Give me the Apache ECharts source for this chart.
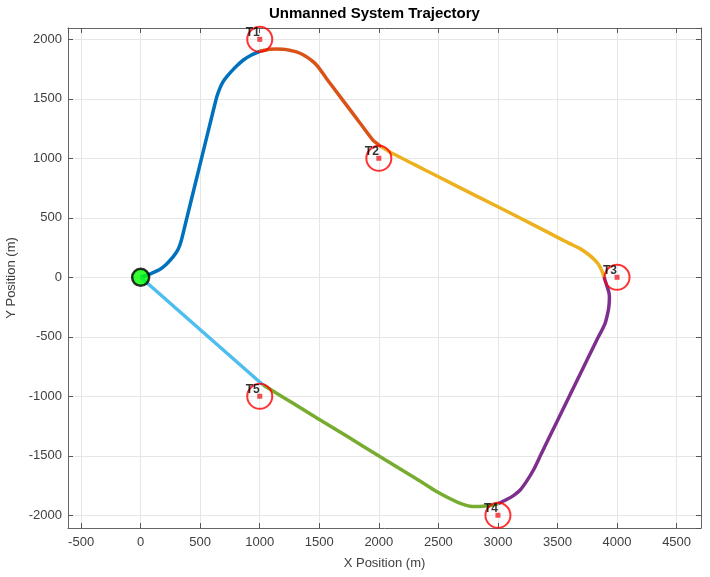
<!DOCTYPE html>
<html>
<head>
<meta charset="utf-8">
<script src="https://cdn.jsdelivr.net/npm/echarts@6/dist/echarts.min.js"></script>
<style>
  html, body { margin: 0; padding: 0; background: #fff; }
  #chart { width: 710px; height: 577px; }
</style>
</head>
<body>
<div id="chart"></div>
<script>
// path segments, [x, y] in metres
var segStartT1 = [[0,0],[50,17],[100,37],[160,65],[216,110],[272,171],[315,235],[342,311],[384,482],[454,767],[524,1052],[590,1320],[622,1450],[642,1525],[664,1586],[690,1640],[720,1683],[790,1760],[860,1824],[930,1868],[1000,1899]];
var segT1T2 = [[1000,1899],[1084,1916],[1140,1918],[1196,1916],[1250,1908],[1308,1894],[1360,1872],[1406,1844],[1450,1810],[1490,1769],[1560,1671],[1700,1485],[1840,1299],[1952,1151],[1990,1120],[2022,1096]];
var segT2T3 = [[2022,1096],[2092,1053],[2300,947],[2484,853],[2800,693],[3157,513],[3521,325],[3600,285],[3689,241],[3750,200],[3801,157],[3835,120],[3857,87],[3876,45],[3891,3]];
var segT3T4 = [[3891,3],[3913,-67],[3930,-120],[3936,-165],[3934,-220],[3927,-277],[3899,-389],[3829,-529],[3661,-873],[3493,-1218],[3423,-1361],[3360,-1492],[3297,-1622],[3240,-1715],[3185,-1790],[3130,-1835],[3073,-1868],[3003,-1902]];
var segT4T5 = [[3003,-1902],[2940,-1918],[2877,-1924],[2820,-1926],[2765,-1924],[2690,-1902],[2625,-1874],[2484,-1800],[2345,-1712],[2008,-1506],[1740,-1341],[1476,-1180],[1280,-1059],[1084,-939],[1028,-905]];
var segT5Start = [[1028,-905],[0,0]];

var targetNames = ['T1', 'T2', 'T3', 'T4', 'T5'];
var targetX = [1000, 2000, 4000, 3000, 1000];
var targetY = [2000, 1000, 0, -2000, -1000];
var startPoint = [0, 0];

var segments = [segStartT1, segT1T2, segT2T3, segT3T4, segT4T5, segT5Start];
var segColors = ['#0072BD', '#D95319', '#EDB120', '#7E2F8E', '#77AC30', '#4DBEEE'];

var targets = targetNames.map(function(n, i) {
    return { name: n, value: [targetX[i], targetY[i]] };
});

var axisFont = { fontFamily: 'Liberation Sans', fontSize: 13, color: '#404040' };
var plainNum = function(v) { return String(v); };

var series = segments.map(function(seg, i) {
    return {
        type: 'line',
        data: seg,
        smooth: 0.25,
        showSymbol: false,
        lineStyle: { color: segColors[i], width: 3.5 },
        z: 2
    };
});
series.push({
    type: 'scatter',
    data: targets,
    symbol: 'circle',
    symbolSize: 25,
    itemStyle: { color: 'rgba(0,0,0,0)', borderColor: '#ff0000', borderWidth: 2 },
    z: 3
});
series.push({
    type: 'scatter',
    data: targets,
    symbol: 'rect',
    symbolSize: 5,
    itemStyle: { color: '#e8262b' },
    label: {
        show: true,
        position: 'inside',
        offset: [-7, -7],
        formatter: '{b}',
        fontFamily: 'Liberation Sans',
        fontSize: 12,
        fontWeight: 'bold',
        color: '#000'
    },
    z: 4
});
series.push({
    type: 'scatter',
    data: [startPoint],
    symbol: 'circle',
    symbolSize: 17,
    itemStyle: { color: '#00ff00', borderColor: '#000', borderWidth: 2.5 },
    z: 5
});

var chart = echarts.init(document.getElementById('chart'));
chart.setOption({
    backgroundColor: '#fff',
    animation: false,
    graphic: [{
        type: 'text',
        left: 384 - 115,
        top: 6,
        style: {
            text: 'Unmanned System Trajectory',
            fontFamily: 'Liberation Sans',
            fontSize: 15,
            fontWeight: 'bold',
            fill: '#000'
        }
    }],
    grid: { left: 68, right: 9, top: 28, bottom: 49, containLabel: false, outerBoundsMode: 'none' },
    xAxis: [{
        type: 'value',
        min: -610,
        max: 4705,
        splitNumber: 10,
        minInterval: 500,
        maxInterval: 500,
        name: 'X Position (m)',
        nameLocation: 'middle',
        nameGap: 29,
        nameTextStyle: axisFont,
        axisLine: { show: true, onZero: false, lineStyle: { color: '#666', width: 1 } },
        axisTick: { show: true, inside: true, length: 5, lineStyle: { color: '#555' } },
        axisLabel: Object.assign({ showMinLabel: false, showMaxLabel: false, margin: 8, formatter: plainNum }, axisFont),
        splitLine: { show: true, lineStyle: { color: '#e6e6e6' } }
    }, {
        type: 'value',
        position: 'top',
        min: -610,
        max: 4705,
        splitNumber: 10,
        minInterval: 500,
        maxInterval: 500,
        axisLine: { show: true, onZero: false, lineStyle: { color: '#666', width: 1 } },
        axisTick: { show: true, inside: true, length: 5, lineStyle: { color: '#555' } },
        axisLabel: { show: false },
        splitLine: { show: false }
    }],
    yAxis: [{
        type: 'value',
        min: -2107,
        max: 2095,
        splitNumber: 8,
        minInterval: 500,
        maxInterval: 500,
        name: 'Y Position (m)',
        nameLocation: 'middle',
        nameGap: 48,
        nameTextStyle: axisFont,
        axisLine: { show: true, onZero: false, lineStyle: { color: '#666', width: 1 } },
        axisTick: { show: true, inside: true, length: 5, lineStyle: { color: '#555' } },
        axisLabel: Object.assign({ showMinLabel: false, showMaxLabel: false, margin: 6, formatter: plainNum }, axisFont),
        splitLine: { show: true, lineStyle: { color: '#e6e6e6' } }
    }, {
        type: 'value',
        position: 'right',
        min: -2107,
        max: 2095,
        splitNumber: 8,
        minInterval: 500,
        maxInterval: 500,
        axisLine: { show: true, onZero: false, lineStyle: { color: '#666', width: 1 } },
        axisTick: { show: true, inside: true, length: 5, lineStyle: { color: '#555' } },
        axisLabel: { show: false },
        splitLine: { show: false }
    }],
    series: series
});
</script>
</body>
</html>
